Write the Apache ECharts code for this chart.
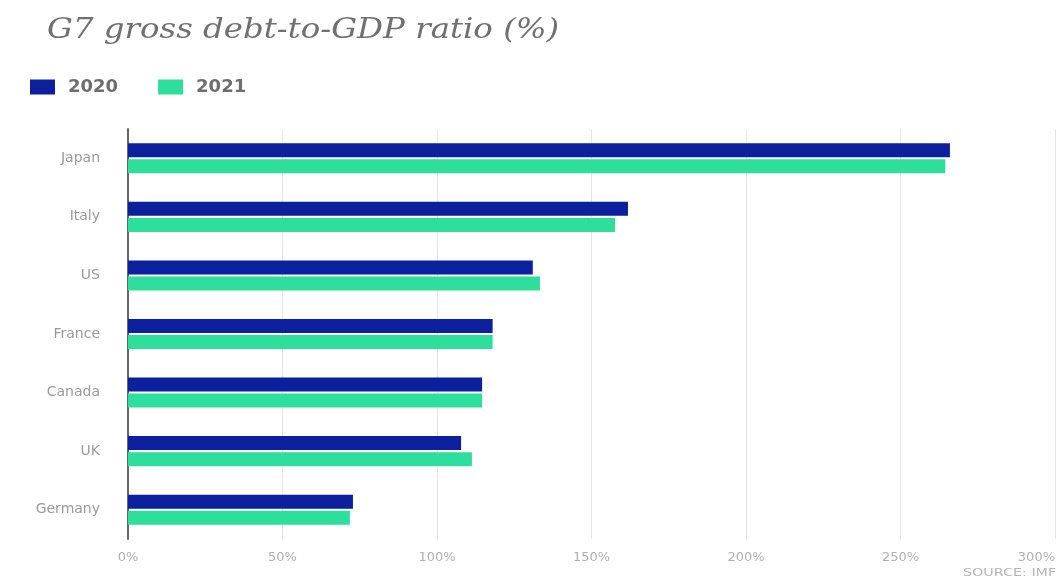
<!DOCTYPE html>
<html>
<head>
<meta charset="utf-8">
<script src="https://cdn.jsdelivr.net/npm/echarts@6/dist/echarts.min.js"></script>
<style>
  html, body { margin: 0; padding: 0; background: #ffffff; }
  #chart { width: 1064px; height: 585px; }
</style>
</head>
<body>
<div id="chart"></div>
<script>
// G7 gross government debt as a share of GDP
const countries = ['Japan', 'Italy', 'US', 'France', 'Canada', 'UK', 'Germany'];
const debt2020 = [266, 161.8, 131, 118, 114.6, 107.8, 72.8];
const debt2021 = [264.5, 157.6, 133.3, 118, 114.6, 111.3, 71.8];
const xTicks = [0, 50, 100, 150, 200, 250, 300];

const chart = echarts.init(document.getElementById('chart'));
chart.setOption({
  animation: false,
  backgroundColor: '#ffffff',
  legend: {
    left: 25,
    top: 73,
    itemWidth: 25,
    itemHeight: 15,
    itemGap: 40,
    icon: 'rect',
    textStyle: {
      fontFamily: 'DejaVu Sans',
      fontWeight: 'bold',
      fontSize: 18,
      color: '#6e6e6e',
      padding: [0, 0, 0, 8]
    },
    data: ['2020', '2021']
  },
  grid: { left: 128, right: 9, top: 129, bottom: 46 },
  xAxis: {
    type: 'value',
    min: xTicks[0],
    max: xTicks[xTicks.length - 1],
    interval: 50,
    axisLine: { show: false },
    axisTick: { show: false },
    splitLine: { lineStyle: { color: '#e6e6e6', width: 1 } },
    axisLabel: {
      formatter: v => v + '%',
      color: '#b0b0b0',
      fontFamily: 'DejaVu Sans',
      fontSize: 13,
      margin: 12,
      alignMaxLabel: 'right'
    }
  },
  yAxis: {
    type: 'category',
    data: countries,
    inverse: true,
    axisLine: { show: true, lineStyle: { color: '#666666', width: 2 } },
    axisTick: { show: false },
    axisLabel: {
      color: '#9a9a9a',
      fontFamily: 'DejaVu Sans',
      fontSize: 14,
      margin: 28
    }
  },
  series: [
    {
      name: '2020',
      type: 'bar',
      data: debt2020,
      barWidth: 14,
      barGap: '15%',
      itemStyle: { color: '#0c1f9c' }
    },
    {
      name: '2021',
      type: 'bar',
      data: debt2021,
      barWidth: 14,
      itemStyle: { color: '#2ede9c' }
    }
  ],
  graphic: [
    {
      // chart heading, drawn slightly widened
      type: 'text',
      x: 47,
      y: 17,
      scaleX: 1.2,
      style: {
        text: 'G7 gross debt-to-GDP ratio (%)',
        fill: '#707070',
        font: 'italic 27px "DejaVu Serif"',
        verticalAlign: 'top'
      }
    },
    {
      type: 'text',
      x: 963,
      y: 568,
      scaleX: 1.3,
      style: {
        text: 'SOURCE: IMF',
        fill: '#b5b5b5',
        font: '11px "DejaVu Sans"',
        verticalAlign: 'top'
      }
    }
  ]
});
</script>
</body>
</html>
